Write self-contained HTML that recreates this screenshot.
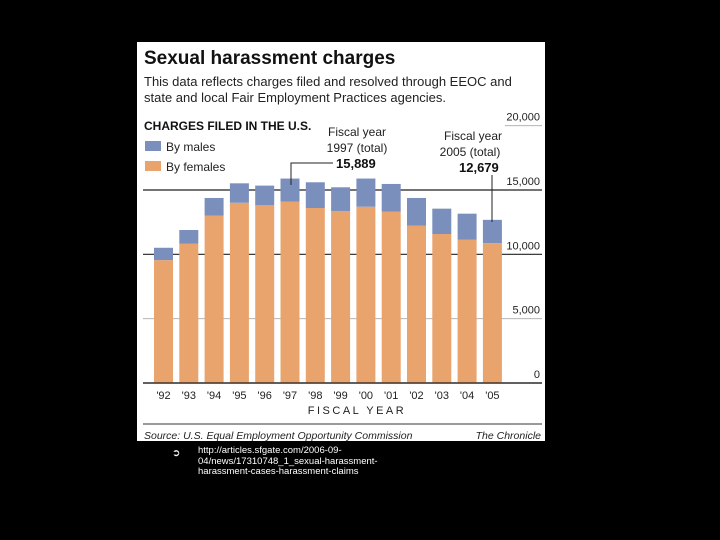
<!DOCTYPE html>
<html><head><meta charset="utf-8"><style>
body{margin:0;background:#000;width:720px;height:540px;overflow:hidden;font-family:"Liberation Sans",sans-serif}
#panel{position:absolute;left:137px;top:42px;width:408px;height:399px;background:#fff}
.url{position:absolute;left:198px;top:446px;color:#fff;font-size:9.5px;line-height:10.5px}
</style></head><body>
<div id="panel"></div>
<svg id="chart" width="720" height="540" style="position:absolute;left:0;top:0">
<text x="144" y="64" font-size="19" font-weight="bold" fill="#111">Sexual harassment charges</text>
<text x="144" y="86" font-size="13" fill="#222">This data reflects charges filed and resolved through EEOC and</text>
<text x="144" y="102" font-size="13" fill="#222">state and local Fair Employment Practices agencies.</text>
<text x="144" y="130" font-size="12" font-weight="bold" fill="#111">CHARGES FILED IN THE U.S.</text>
<rect x="145" y="141" width="16" height="10" fill="#7b8fbd"/>
<text x="166" y="151" font-size="12" fill="#222">By males</text>
<rect x="145" y="161" width="16" height="10" fill="#e9a46e"/>
<text x="166" y="171" font-size="12" fill="#222">By females</text>
<g id="grid"></g><g id="bars"></g><g id="labels"></g>
<text x="357" y="136" font-size="12" fill="#222" text-anchor="middle">Fiscal year</text>
<text x="357" y="152" font-size="12" fill="#222" text-anchor="middle">1997 (total)</text>
<text x="336" y="168" font-size="13" font-weight="bold" fill="#111">15,889</text>
<polyline points="291,185 291,163 333,163" fill="none" stroke="#222" stroke-width="1"/>
<text x="473" y="140" font-size="12" fill="#222" text-anchor="middle">Fiscal year</text>
<text x="470" y="156" font-size="12" fill="#222" text-anchor="middle">2005 (total)</text>
<text x="459" y="172" font-size="13" font-weight="bold" fill="#111">12,679</text>
<line x1="492" y1="175" x2="492" y2="222" stroke="#222"/>
<text x="357" y="414" font-size="11" letter-spacing="2.5" fill="#222" text-anchor="middle">FISCAL YEAR</text>
<line x1="143" y1="424" x2="542" y2="424" stroke="#333" stroke-width="1"/>
<text x="144" y="439" font-size="10.5" font-style="italic" fill="#222">Source: U.S. Equal Employment Opportunity Commission</text>
<text x="541" y="439" font-size="10.5" font-style="italic" fill="#222" text-anchor="end">The Chronicle</text>
<text x="172" y="456" font-size="10" fill="#fff">➲</text>
</svg>
<div class="url">http://articles.sfgate.com/2006-09-<br>04/news/17310748_1_sexual-harassment-<br>harassment-cases-harassment-claims</div>
<script>
const years=["'92","'93","'94","'95","'96","'97","'98","'99","'00","'01","'02","'03","'04","'05"];
const females=[9550,10820,13000,14010,13810,14090,13600,13370,13700,13310,12220,11580,11130,10870];
const males=[960,1070,1380,1510,1530,1800,2000,1840,2190,2160,2160,1970,2030,1810];
const ticks=[0,5000,10000,15000,20000];
const tickLabels=["0","5,000","10,000","15,000","20,000"];
const NS="http://www.w3.org/2000/svg";
const y0=383,pxPer=193/15000;
const y=v=>y0-v*pxPer;
const x=i=>154+i*25.3;
const bw=19;
function mk(t,a,p){const e=document.createElementNS(NS,t);for(const k in a)e.setAttribute(k,a[k]);p.appendChild(e);return e;}
const grid=document.getElementById('grid'),bars=document.getElementById('bars'),labels=document.getElementById('labels');
ticks.forEach((t,i)=>{
  const strong=(t===10000||t===15000||t===0);
  const x1=t===20000?505:143;
  const g=mk('line',{x1:x1,x2:542,y1:y(t),y2:y(t),stroke:strong?'#222':'#aaa','stroke-width':strong?1.2:0.8},grid);
  
  
  const tx=mk('text',{x:540,y:y(t)-5,'font-size':11,fill:'#222','text-anchor':'end'},labels);
  tx.textContent=tickLabels[i];
  
  
});
years.forEach((yr,i)=>{
  const f=mk('rect',{x:x(i),y:y(females[i]),width:bw,height:y(0)-y(females[i]),fill:'#e9a46e'},bars);
  
  
  const m=mk('rect',{x:x(i),y:y(females[i]+males[i]),width:bw,height:y(females[i])-y(females[i]+males[i]),fill:'#7b8fbd'},bars);
  
  
  const t=mk('text',{x:x(i)+bw/2,y:399,'font-size':11,fill:'#222','text-anchor':'middle'},labels);
  t.textContent=yr;
  
  
});
mk('line',{x1:143,x2:542,y1:y0,y2:y0,stroke:'#222','stroke-width':1.3},labels);
</script>
</body></html>
